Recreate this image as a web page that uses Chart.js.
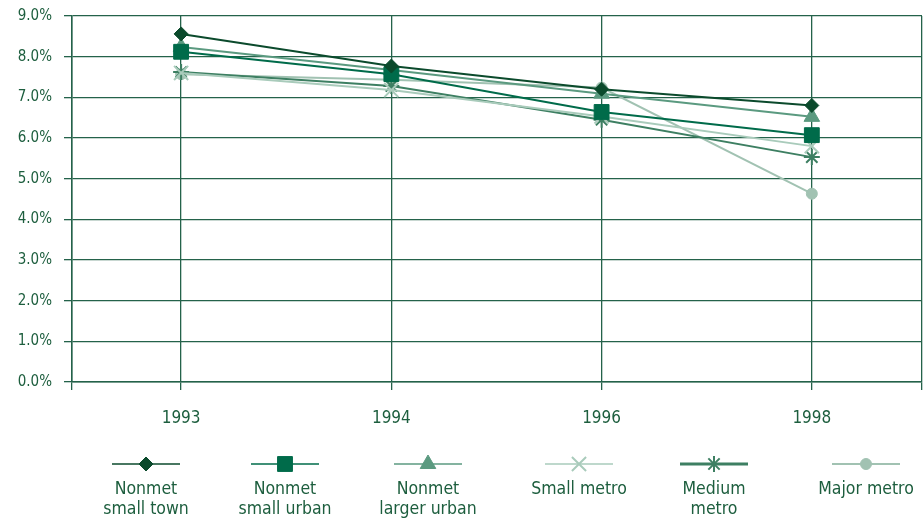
<!DOCTYPE html>
<html>
<head>
<meta charset="utf-8">
<script src="https://cdn.jsdelivr.net/npm/chart.js@4/dist/chart.umd.min.js"></script>
<style>
  html, body { margin: 0; padding: 0; background: #fff; overflow: hidden; }
  canvas { display: block; }
</style>
</head>
<body>
<canvas id="chart" width="924" height="518" style="width:924px;height:518px"></canvas>
<script>
// Data
const years = ['1993', '1994', '1996', '1998'];
const seriesNames = [
  ['Nonmet', 'small town'],
  ['Nonmet', 'small urban'],
  ['Nonmet', 'larger urban'],
  ['Small metro'],
  ['Medium', 'metro'],
  ['Major metro']
];
const smallTown   = [8.56, 7.77, 7.20, 6.80];
const smallUrban  = [8.12, 7.57, 6.64, 6.07];
const largerUrban = [8.24, 7.67, 7.09, 6.52];
const smallMetro  = [7.60, 7.18, 6.53, 5.80];
const mediumMetro = [7.62, 7.28, 6.45, 5.53];
const majorMetro  = [7.57, 7.43, 7.24, 4.63];
const yTicks = [0, 1, 2, 3, 4, 5, 6, 7, 8, 9];

// Styles
const txt = '#1d5e3e';
const grid = '#24624a';
const styles = [
  { color: '#0b4a2c', point: 'rectRot', radius: 7, width: 2, legendWidth: 1.5 },
  { color: '#006b4a', point: 'rect', radius: 10.5, width: 2, legendWidth: 1.5 },
  { color: '#5b9a80', point: 'triangle', radius: 9, width: 2, legendWidth: 1.5 },
  { color: '#a9cbbb', point: 'crossRot', radius: 10, width: 2, legendWidth: 1.5, stroke: 2 },
  { color: '#3d7f62', point: 'star', radius: 8, width: 2, legendWidth: 3, stroke: 2 },
  { color: '#a1c2b2', point: 'circle', radius: 5.5, width: 2, legendWidth: 2 }
];
const legendX = [146, 285, 428, 579, 714, 866];
const plotRight = 922;

const values = [smallTown, smallUrban, largerUrban, smallMetro, mediumMetro, majorMetro];
const datasets = values.map((vals, i) => {
  const s = styles[i];
  return {
    label: seriesNames[i].join(' '),
    data: vals.map((v, j) => ({ x: j, y: v })),
    borderColor: s.color,
    backgroundColor: s.color,
    borderWidth: s.width,
    pointStyle: s.point,
    pointRadius: s.radius,
    pointHoverRadius: s.radius,
    pointBorderWidth: s.stroke || 1,
    pointBorderColor: s.color,
    pointBackgroundColor: s.color,
    tension: 0
  };
});

const family = '"DejaVu Sans Condensed", "DejaVu Sans", sans-serif';

// Stretch the plot area to the right edge after Chart.js has laid it out
const fitArea = {
  id: 'fitArea',
  afterLayout(chart) {
    const a = chart.chartArea;
    a.right = plotRight;
    a.width = a.right - a.left;
    const x = chart.scales.x;
    x.right = plotRight;
    x.width = x.right - x.left;
    x.configure();
  }
};

// Legend drawn under the axis: marker on a short line, name below
const legendPlugin = {
  id: 'bottomLegend',
  afterDraw(chart) {
    const ctx = chart.ctx;
    ctx.save();
    styles.forEach((s, i) => {
      const cx = legendX[i];
      const cy = 464;
      ctx.strokeStyle = s.color;
      ctx.fillStyle = s.color;
      ctx.lineWidth = s.legendWidth;
      ctx.beginPath();
      ctx.moveTo(cx - 34, cy);
      ctx.lineTo(cx + 34, cy);
      ctx.stroke();
      ctx.lineWidth = s.stroke || 1;
      Chart.helpers.drawPoint(ctx, {
        pointStyle: s.point,
        radius: s.radius,
        borderWidth: s.stroke || 1,
        rotation: 0
      }, cx, cy);
      ctx.fillStyle = txt;
      ctx.font = '17.5px ' + family;
      ctx.textAlign = 'center';
      ctx.textBaseline = 'middle';
      seriesNames[i].forEach((line, k) => {
        ctx.fillText(line, cx, 489 + k * 20);
      });
    });
    ctx.restore();
  }
};

new Chart(document.getElementById('chart'), {
  type: 'line',
  data: { datasets },
  plugins: [fitArea, legendPlugin],
  options: {
    responsive: false,
    animation: false,
    layout: { padding: { top: 16, right: 2, left: 0, bottom: 0 } },
    plugins: { legend: { display: false }, tooltip: { enabled: false } },
    scales: {
      x: {
        type: 'linear',
        min: -0.519,
        max: 3.524,
        afterFit(scale) {
          scale.height = 136;
          scale.paddingLeft = 0;
          scale.paddingRight = 0;
        },
        afterBuildTicks(scale) {
          scale.ticks = [{ value: -0.519 }].concat(years.map((y, i) => ({ value: i })), [{ value: 3.524 }]);
        },
        ticks: {
          color: txt,
          // tall line box pushes the year labels down without widening the side padding
          font: { family, size: 17, lineHeight: '58px' },
          padding: 0,
          maxRotation: 0,
          autoSkip: false,
          callback: (v) => Number.isInteger(v) ? years[v] : ''
        },
        grid: { color: grid, lineWidth: 1.3, tickLength: 8, drawTicks: true },
        border: { color: grid, width: 1.5 }
      },
      y: {
        min: 0,
        max: 9,
        afterFit(scale) {
          scale.width = 72;
          scale.paddingTop = 0;
          scale.paddingBottom = 0;
        },
        afterBuildTicks(scale) {
          scale.ticks = yTicks.map(v => ({ value: v }));
        },
        ticks: {
          color: txt,
          font: { family, size: 15 },
          padding: 12,
          callback: (v) => v.toFixed(1) + '%'
        },
        grid: { color: grid, lineWidth: 1.3, tickLength: 8 },
        border: { color: grid, width: 1.5 }
      }
    }
  }
});
</script>
</body>
</html>
